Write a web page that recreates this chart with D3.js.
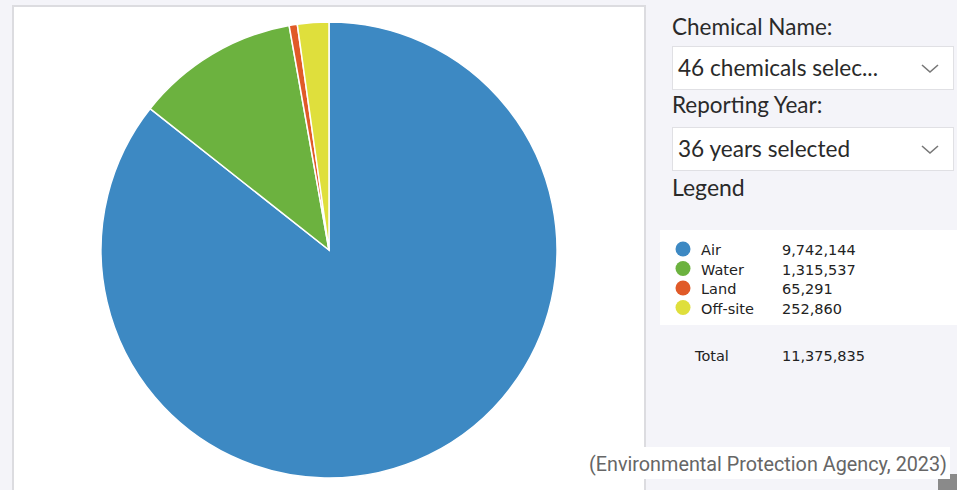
<!DOCTYPE html>
<html><head><meta charset="utf-8">
<script src="https://cdn.jsdelivr.net/npm/d3@7"></script>
<style>
html,body{margin:0;padding:0;background:#f4f4f9;overflow:hidden;}
svg{display:block;}
</style></head>
<body>
<script>
const categories = ["Air", "Water", "Land", "Off-site"];
const values = [9742144, 1315537, 65291, 252860];
const colors = ["#3d89c3", "#6cb23f", "#e05a28", "#dfdf3c"];
const totalLabel = "Total";
const totalValue = 11375835;
const filterLabels = ["Chemical Name:", "Reporting Year:"];
const filterValues = ["46 chemicals selec...", "36 years selected"];
const caption = "(Environmental Protection Agency, 2023)";

const W = 957, H = 490;
const svg = d3.select("body").append("svg").attr("width", W).attr("height", H);

svg.append("rect").attr("width", W).attr("height", H).attr("fill", "#f4f4f9");
svg.append("rect").attr("x", 13).attr("y", 6).attr("width", 632).attr("height", 500)
  .attr("fill", "#fff").attr("stroke", "#dcdce0").attr("stroke-width", 2);

// pie
const cx = 329, cy = 250, R = 228;
const data = categories.map((c, i) => ({ c, v: values[i], col: colors[i] }));
const pie = d3.pie().sort(null).value(d => d.v);
const arc = d3.arc().innerRadius(0).outerRadius(R);
svg.append("g").attr("transform", `translate(${cx},${cy})`)
  .selectAll("path").data(pie(data)).join("path")
  .attr("d", arc).attr("fill", d => d.data.col)
  .attr("stroke", "#fff").attr("stroke-width", 1.5);

// right panel
const rp = svg.append("g");
const fontUI = "Lato, 'Open Sans', sans-serif";
const labelY = [35, 113];
const boxY = [46, 127];
filterLabels.forEach((t, i) => {
  rp.append("text").attr("x", 672).attr("y", labelY[i]).text(t)
    .attr("font-family", fontUI).attr("font-size", 22.5).attr("fill", "#2a2a2a");
  const by = boxY[i];
  rp.append("rect").attr("x", 672.5).attr("y", by + 0.5).attr("width", 281).attr("height", 43)
    .attr("fill", "#fff").attr("stroke", "#e0e0e4").attr("stroke-width", 1);
  rp.append("text").attr("x", 678).attr("y", by + 30).text(filterValues[i])
    .attr("font-family", fontUI).attr("font-size", 22.6).attr("fill", "#2a2a2a");
  rp.append("path").attr("d", `M${922},${by + 19} l8,7 l8,-7`)
    .attr("fill", "none").attr("stroke", "#777").attr("stroke-width", 1.6);
});
rp.append("text").attr("x", 672).attr("y", 196).text("Legend")
  .attr("font-family", fontUI).attr("font-size", 23).attr("fill", "#2a2a2a");

// legend box
const lf = "'DejaVu Sans', Verdana, sans-serif";
rp.append("rect").attr("x", 660).attr("y", 230).attr("width", 297).attr("height", 95).attr("fill", "#fff");
const lg = rp.selectAll("g.item").data(data).join("g").attr("class", "item")
  .attr("transform", (d, i) => `translate(0,${249 + i * 19.5})`);
lg.append("circle").attr("cx", 683).attr("cy", 0).attr("r", 7.5).attr("fill", d => d.col);
lg.append("text").attr("x", 701).attr("y", 6).text(d => d.c)
  .attr("font-family", lf).attr("font-size", 14.5).attr("fill", "#222");
lg.append("text").attr("x", 782).attr("y", 6).text(d => d3.format(",")(d.v))
  .attr("font-family", lf).attr("font-size", 14.5).attr("fill", "#222");
rp.append("text").attr("x", 695).attr("y", 361).text(totalLabel)
  .attr("font-family", lf).attr("font-size", 14.5).attr("fill", "#222");
rp.append("text").attr("x", 782).attr("y", 361).text(d3.format(",")(totalValue))
  .attr("font-family", lf).attr("font-size", 14.5).attr("fill", "#222");

// bottom-right shadow and caption
svg.append("rect").attr("x", 938).attr("y", 474).attr("width", 19).attr("height", 16).attr("fill", "#8a8a8a");
svg.append("rect").attr("x", 574).attr("y", 447).attr("width", 376).attr("height", 32).attr("fill", "#fff");
svg.append("text").attr("x", 947).attr("y", 471).attr("text-anchor", "end").text(caption)
  .attr("font-family", "Roboto, sans-serif").attr("font-size", 19.8).attr("fill", "#666");
</script>
</body></html>
